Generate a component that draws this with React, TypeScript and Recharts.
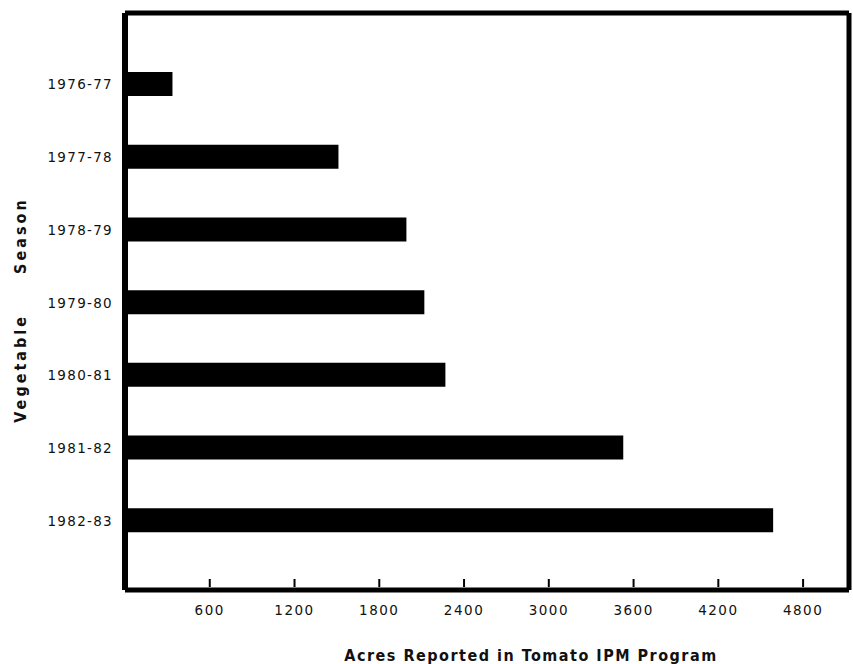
import React from "react";
import {
  BarChart,
  Bar,
  XAxis,
  YAxis,
  CartesianGrid,
  Label,
} from "recharts";

const seasons = [
  "1976-77",
  "1977-78",
  "1978-79",
  "1979-80",
  "1980-81",
  "1981-82",
  "1982-83",
];
const acres = [336, 1511, 1992, 2119, 2268, 3527, 4588];
const xTicks = [600, 1200, 1800, 2400, 3000, 3600, 4200, 4800];
const xMax = 5125;

const data = seasons.map((season, i) => ({ season, acres: acres[i] }));

const tickFont = "'DejaVu Sans', sans-serif";
const titleFont = "'DejaVu Sans Condensed', 'DejaVu Sans', sans-serif";

// ticks point up into the plot, labels sit below the axis
function XTick(props: any) {
  const { x, y, payload } = props;
  return (
    <g>
      <line x1={x} x2={x} y1={y - 3} y2={y - 11} stroke="#000" strokeWidth={2} />
      <text
        x={x}
        y={y + 25}
        textAnchor="middle"
        fontFamily={tickFont}
        fontSize={13.5}
        letterSpacing={1.5}
        fill="#111"
      >
        {payload.value}
      </text>
    </g>
  );
}

function YTick(props: any) {
  const { x, y, payload } = props;
  return (
    <text
      x={x - 12}
      y={y + 5}
      textAnchor="end"
      fontFamily={tickFont}
      fontSize={13.5}
      letterSpacing={1.3}
      fill="#111"
    >
      {payload.value}
    </text>
  );
}

export default function App() {
  return (
    <div style={{ position: "absolute", left: 0, top: 0, background: "#fff" }}>
      <BarChart
        width={853}
        height={664}
        data={data}
        layout="vertical"
        margin={{ top: 13, right: 4, left: 0, bottom: 0 }}
      >
        {/* top and right border of the frame */}
        <CartesianGrid
          stroke="#000"
          strokeWidth={5}
          horizontalCoordinatesGenerator={({ offset }: any) => [offset.top]}
          verticalCoordinatesGenerator={({ offset }: any) => [
            offset.left + offset.width,
          ]}
        />
        <XAxis
          type="number"
          domain={[0, xMax]}
          ticks={xTicks}
          allowDataOverflow
          axisLine={{ stroke: "#000", strokeWidth: 5 }}
          tickLine={false}
          tickSize={0}
          tickMargin={0}
          tick={<XTick />}
          height={74}
          interval={0}
        >
          <Label
            content={() => (
              <text
                x={531}
                y={661}
                textAnchor="middle"
                fontFamily={titleFont}
                fontWeight="bold"
                fontSize={16}
                letterSpacing={1.5}
                fill="#111"
              >
                Acres Reported in Tomato IPM Program
              </text>
            )}
          />
        </XAxis>
        <YAxis
          type="category"
          dataKey="season"
          width={125}
          padding={{ top: 35, bottom: 33 }}
          axisLine={{ stroke: "#000", strokeWidth: 6 }}
          tickLine={false}
          tickSize={0}
          tickMargin={0}
          tick={<YTick />}
          interval={0}
        >
          <Label
            content={() => (
              <text
                x={26}
                y={310}
                transform="rotate(-90 26 310)"
                textAnchor="middle"
                fontFamily={titleFont}
                fontWeight="bold"
                fontSize={16}
                letterSpacing={3}
                fill="#111"
                style={{ whiteSpace: "pre" }}
              >
                {"Vegetable     Season"}
              </text>
            )}
          />
        </YAxis>
        <Bar
          dataKey="acres"
          fill="#000"
          barSize={24}
          isAnimationActive={false}
        />
      </BarChart>
    </div>
  );
}
